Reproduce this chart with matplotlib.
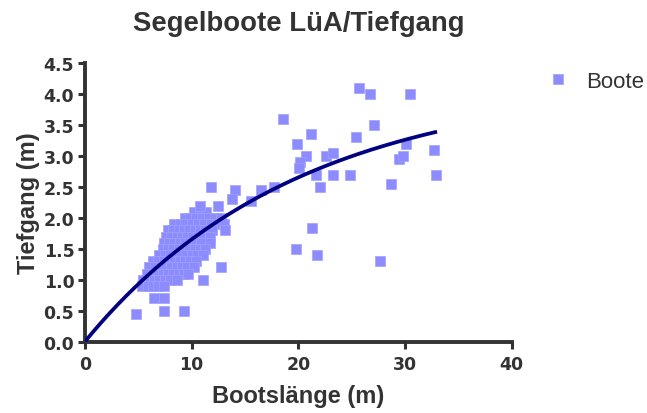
import numpy as np
import matplotlib
matplotlib.use("Agg")
import matplotlib.pyplot as plt

plt.rcParams['font.family'] = ['Liberation Sans', 'DejaVu Sans']

# Bootslänge (m) / Tiefgang (m) - dense cluster of small boats, row by row
cluster_len = [
    10.2, 10.8, 11.4, 10.8, 12.5,
    9.4, 9.9, 10.4, 11.0, 11.6, 12.2, 12.8,
    8.4, 8.9, 9.4, 10.0, 10.6, 11.2, 11.8, 12.4, 13.0,
    7.8, 8.3, 8.8, 9.3, 9.8, 10.3, 10.8, 11.3, 11.9, 13.1,
    7.6, 8.1, 8.6, 9.1, 9.6, 10.1, 10.6, 11.1, 11.7,
    7.4, 7.9, 8.4, 8.9, 9.4, 9.9, 10.4, 10.9, 11.7,
    7.3, 7.8, 8.3, 8.8, 9.3, 9.8, 10.3, 10.8, 11.3,
    7.0, 7.5, 8.0, 8.5, 9.0, 9.5, 10.0, 10.5, 11.1,
    6.4, 6.9, 7.4, 7.9, 8.4, 8.9, 9.4, 9.9, 10.4,
    6.0, 6.6, 7.1, 7.6, 8.1, 8.6, 9.1, 9.6, 10.2, 12.8,
    5.8, 6.3, 6.8, 7.3, 7.8, 8.3, 8.8, 9.3, 9.7,
    5.5, 6.0, 6.5, 7.0, 7.5, 8.0, 8.6, 11.1,
    5.4, 5.9, 6.4, 6.9, 7.4,
    6.5, 7.4,
    7.4, 9.3, 4.8,
]
cluster_depth = [
    2.1, 2.1, 2.1, 2.2, 2.2,
    2.0, 2.0, 2.0, 2.0, 2.0, 2.0, 2.0,
    1.9, 1.9, 1.9, 1.9, 1.9, 1.9, 1.9, 1.9, 1.9,
    1.8, 1.8, 1.8, 1.8, 1.8, 1.8, 1.8, 1.8, 1.8, 1.8,
    1.7, 1.7, 1.7, 1.7, 1.7, 1.7, 1.7, 1.7, 1.7,
    1.6, 1.6, 1.6, 1.6, 1.6, 1.6, 1.6, 1.6, 1.6,
    1.5, 1.5, 1.5, 1.5, 1.5, 1.5, 1.5, 1.5, 1.5,
    1.4, 1.4, 1.4, 1.4, 1.4, 1.4, 1.4, 1.4, 1.4,
    1.3, 1.3, 1.3, 1.3, 1.3, 1.3, 1.3, 1.3, 1.3,
    1.2, 1.2, 1.2, 1.2, 1.2, 1.2, 1.2, 1.2, 1.2, 1.2,
    1.1, 1.1, 1.1, 1.1, 1.1, 1.1, 1.1, 1.1, 1.1,
    1.0, 1.0, 1.0, 1.0, 1.0, 1.0, 1.0, 1.0,
    0.9, 0.9, 0.9, 0.9, 0.9,
    0.7, 0.7,
    0.5, 0.5, 0.45,
]

# larger yachts
large_len = [11.8, 14.1, 13.8, 15.6, 16.5, 17.7, 18.6, 25.7, 26.7, 30.5,
             27.1, 21.2, 19.9, 25.4, 20.7, 20.2, 20.1, 22.6, 23.3, 21.7,
             23.3, 24.8, 22.0, 30.1, 29.4, 29.8, 32.7, 32.9, 28.7, 21.3,
             19.8, 21.8, 27.7]
large_depth = [2.5, 2.45, 2.3, 2.28, 2.45, 2.5, 3.6, 4.1, 4.0, 4.0,
               3.5, 3.35, 3.2, 3.3, 3.0, 2.9, 2.8, 3.0, 3.05, 2.7,
               2.7, 2.7, 2.5, 3.2, 2.95, 3.0, 3.1, 2.7, 2.55, 1.83,
               1.5, 1.4, 1.3]

length = np.array(cluster_len + large_len)
depth = np.array(cluster_depth + large_depth)

# saturation fit  T = ymax * (1 - exp(-k * L))
fit_ymax = 4.2
fit_k = 0.05
fit_xmax = 33.0

ink = '#333333'

fig = plt.figure(figsize=(6.47, 4.14), dpi=100)
ax = fig.add_axes([0.131, 0.172, 0.660, 0.673])

ax.plot(length, depth, 's', ms=7.5, color='#8c8cff', mec='#a0a0ff', mew=0.5,
        label='Boote', zorder=2)
xs = np.linspace(0, fit_xmax, 300)
ax.plot(xs, fit_ymax * (1 - np.exp(-fit_k * xs)), color='#000080', lw=2.7,
        solid_capstyle='butt', zorder=3)

ax.set_xlim(0, 40)
ax.set_ylim(0, 4.5)
ax.set_xticks([0, 10, 20, 30, 40])
ax.set_yticks(np.arange(0, 4.51, 0.5))
ax.set_yticklabels([f'{v:.1f}' for v in np.arange(0, 4.51, 0.5)])

for side in ('top', 'right'):
    ax.spines[side].set_visible(False)
for side in ('left', 'bottom'):
    ax.spines[side].set_linewidth(2.8)
    ax.spines[side].set_color(ink)
    ax.spines[side].set_capstyle('projecting')

ax.tick_params(direction='out', length=5, width=2.2, color=ink,
               labelsize=12.5, labelcolor=ink)
ax.tick_params(axis='x', pad=4.5)
ax.tick_params(axis='y', pad=2.5)
for lab in ax.get_xticklabels() + ax.get_yticklabels():
    lab.set_fontweight('bold')
    lab.set_family('DejaVu Sans')

ax.set_xlabel('Bootslänge (m)', fontsize=17, fontweight='bold', color=ink, labelpad=8)
ax.set_ylabel('Tiefgang (m)', fontsize=17, fontweight='bold', color=ink, labelpad=2.5)
ax.set_title('Segelboote LüA/Tiefgang', fontsize=19.8, fontweight='bold', color=ink, pad=24)

ax.legend(loc='center left', bbox_to_anchor=(547 / 647, 1 - 82.5 / 414),
          bbox_transform=fig.transFigure, frameon=False, borderpad=0,
          borderaxespad=0, fontsize=16, handlelength=1.0, handletextpad=0.75,
          labelcolor=ink)

fig.savefig('out.png', dpi=100, facecolor='white')
